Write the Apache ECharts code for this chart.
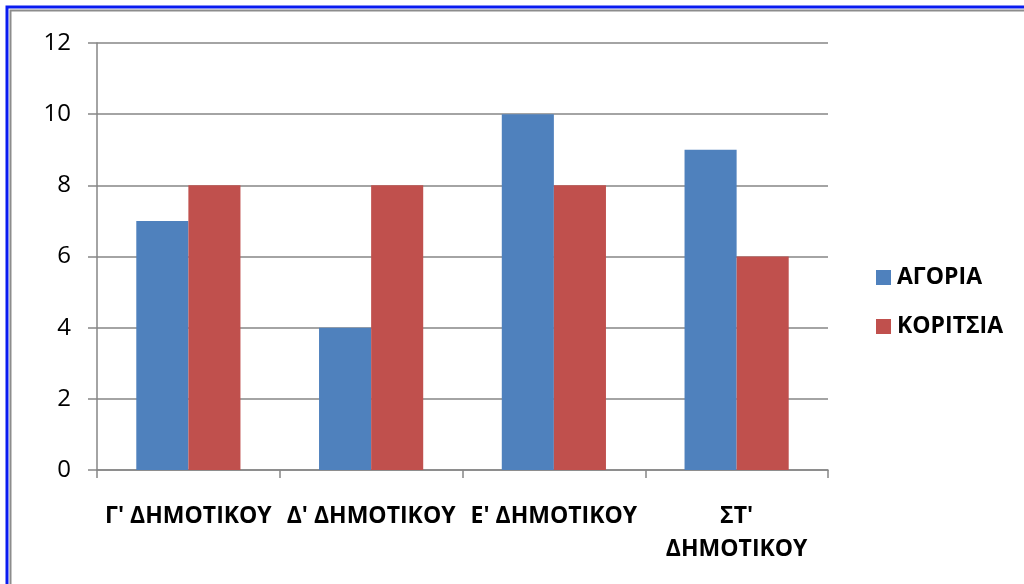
<!DOCTYPE html>
<html>
<head>
<meta charset="utf-8">
<script src="https://cdn.jsdelivr.net/npm/echarts@6/dist/echarts.min.js"></script>
<style>
  html, body { margin: 0; padding: 0; background: #fff; }
  #chart { width: 1024px; height: 584px; }
</style>
</head>
<body>
<div id="chart"></div>
<script>
// Classes (school grades) and pupil counts per gender
const categories = ["Γ' ΔΗΜΟΤΙΚΟΥ", "Δ' ΔΗΜΟΤΙΚΟΥ", "Ε' ΔΗΜΟΤΙΚΟΥ", "ΣΤ' ΔΗΜΟΤΙΚΟΥ"];
const boys = [7, 4, 10, 9];
const girls = [8, 8, 8, 6];
const seriesNames = ['ΑΓΟΡΙΑ', 'ΚΟΡΙΤΣΙΑ'];

const chart = echarts.init(document.getElementById('chart'), null, { renderer: 'canvas' });
const font = '"Open Sans", "Noto Sans", "DejaVu Sans", sans-serif';
const gridColor = '#868686';

// names too long for one category slot go onto two lines
const wrapLong = (name) => name.length > 12 ? name.replace(' ', '\n') : name;

chart.setOption({
  animation: false,
  backgroundColor: '#ffffff',
  textStyle: { fontFamily: font },
  graphic: [
    // frame: blue outer line with a grey inner line (top and left edges)
    { type: 'rect', shape: { x: 7, y: 7, width: 1030, height: 600 }, style: { fill: 'none', stroke: '#0a1cf0', lineWidth: 3 }, z: 10, silent: true },
    { type: 'rect', shape: { x: 10.5, y: 10.5, width: 1030, height: 600 }, style: { fill: 'none', stroke: '#8c8c8c', lineWidth: 2 }, z: 10, silent: true }
  ],
  grid: { left: 97, right: 196, top: 43, bottom: 114, containLabel: false, outerBoundsMode: 'none' },
  legend: {
    orient: 'vertical',
    left: 871,
    top: 261,
    itemWidth: 15,
    itemHeight: 15,
    itemGap: 26,
    icon: 'rect',
    textStyle: { fontFamily: font, fontSize: 23, fontWeight: 'bold', color: '#000', padding: [0, 0, 0, 1] },
    data: seriesNames
  },
  xAxis: {
    type: 'category',
    data: categories,
    axisLine: { lineStyle: { color: gridColor, width: 1.5 } },
    axisTick: { show: true, length: 8, alignWithLabel: false, lineStyle: { color: gridColor, width: 1.5 } },
    axisLabel: {
      interval: 0,
      margin: 30,
      color: '#000',
      fontFamily: font,
      fontSize: 23,
      fontWeight: 'bold',
      lineHeight: 33,
      hideOverlap: false,
      formatter: wrapLong
    }
  },
  yAxis: {
    type: 'value',
    min: 0,
    max: 12,
    interval: 2,
    axisLine: { show: true, lineStyle: { color: gridColor, width: 1.5 } },
    axisTick: { show: true, length: 9, lineStyle: { color: gridColor, width: 1.5 } },
    splitLine: { lineStyle: { color: gridColor, width: 1.5 } },
    axisLabel: { margin: 26, color: '#000', fontFamily: font, fontSize: 24 }
  },
  series: [
    {
      name: seriesNames[0],
      type: 'bar',
      data: boys,
      itemStyle: { color: '#4f81bd' },
      barGap: '0%',
      barCategoryGap: '43%'
    },
    {
      name: seriesNames[1],
      type: 'bar',
      data: girls,
      itemStyle: { color: '#c0504d' },
      barGap: '0%',
      barCategoryGap: '43%'
    }
  ]
});
</script>
</body>
</html>
